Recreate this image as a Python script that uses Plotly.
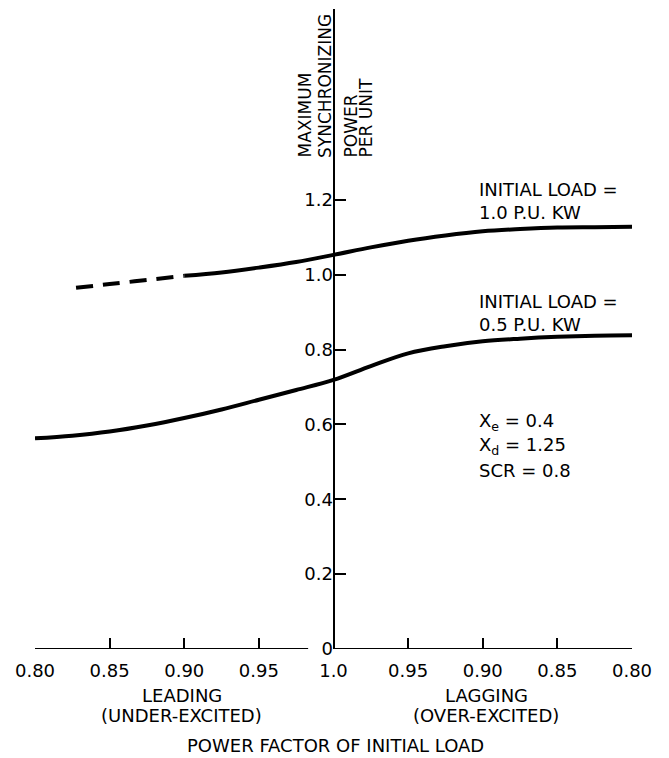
import plotly.graph_objects as go

# x coordinate: leading power factor -> pf - 1 (negative), lagging -> 1 - pf (positive)
x_tickvals = [-0.20, -0.15, -0.10, -0.05, 0.0, 0.05, 0.10, 0.15, 0.20]
x_ticktext = ["0.80", "0.85", "0.90", "0.95", "1.0", "0.95", "0.90", "0.85", "0.80"]
y_tickvals = [0, 0.2, 0.4, 0.6, 0.8, 1.0, 1.2]
y_ticktext = ["0", "0.2", "0.4", "0.6", "0.8", "1.0", "1.2"]

# Initial load = 1.0 P.U. KW
load10_dash_x = [-0.1725, -0.15, -0.125, -0.10]
load10_dash_y = [0.965, 0.975, 0.986, 0.997]
load10_x = [-0.10, -0.075, -0.05, -0.025, 0.0, 0.025, 0.05, 0.075, 0.10, 0.125, 0.15, 0.175, 0.20]
load10_y = [0.997, 1.006, 1.019, 1.034, 1.053, 1.073, 1.091, 1.105, 1.116, 1.122, 1.126, 1.127, 1.128]

# Initial load = 0.5 P.U. KW
load05_x = [-0.20, -0.175, -0.15, -0.125, -0.10, -0.075, -0.05, -0.025, 0.0, 0.025, 0.05, 0.075, 0.10, 0.125, 0.15, 0.175, 0.20]
load05_y = [0.563, 0.570, 0.581, 0.597, 0.617, 0.640, 0.666, 0.692, 0.719, 0.756, 0.790, 0.809, 0.822, 0.829, 0.834, 0.837, 0.838]

FONT = "DejaVu Sans"
FS = 18
fig = go.Figure()
fig.add_trace(go.Scatter(x=load10_dash_x, y=load10_dash_y, mode="lines",
                         line=dict(color="black", width=4, dash="17px,10px", shape="spline"),
                         cliponaxis=False, showlegend=False))
fig.add_trace(go.Scatter(x=load10_x, y=load10_y, mode="lines",
                         line=dict(color="black", width=4, shape="spline"),
                         cliponaxis=False, showlegend=False))
fig.add_trace(go.Scatter(x=load05_x, y=load05_y, mode="lines",
                         line=dict(color="black", width=4, shape="spline"),
                         cliponaxis=False, showlegend=False))

# split x-axis line
fig.add_shape(type="line", xref="x", yref="y", x0=-0.2, x1=-0.017, y0=0, y1=0,
              line=dict(color="black", width=2))
fig.add_shape(type="line", xref="x", yref="y", x0=0, x1=0.2, y0=0, y1=0,
              line=dict(color="black", width=2))

ann = []
def txt(x, y, s, size=FS, xanchor="left", yanchor="middle", angle=0):
    ann.append(dict(x=x, y=y, xref="x", yref="y", text=s, showarrow=False,
                    xanchor=xanchor, yanchor=yanchor, textangle=angle,
                    font=dict(family=FONT, size=size, color="black"), align="left"))

txt(0.096, 1.196, "INITIAL LOAD =<br>1.0 P.U. KW")
txt(0.096, 0.899, "INITIAL LOAD =<br>0.5 P.U. KW")
txt(0.096, 0.606, "X<sub>e</sub> = 0.4")
txt(0.096, 0.542, "X<sub>d</sub> = 1.25")
txt(0.096, 0.478, "SCR = 0.8")

# y-axis title (rotated), bottom aligned at same height
ytitle_y = (649 - 160) / 374.2
txt((305 - 333.5) / 1492.5, ytitle_y, "MAXIMUM", size=17, xanchor="center", yanchor="bottom", angle=-90)
txt((325 - 333.5) / 1492.5, ytitle_y, "SYNCHRONIZING", size=17, xanchor="center", yanchor="bottom", angle=-90)
txt((351 - 333.5) / 1492.5, ytitle_y, "POWER", size=17, xanchor="center", yanchor="bottom", angle=-90)
txt((366 - 333.5) / 1492.5, ytitle_y, "PER UNIT", size=17, xanchor="center", yanchor="bottom", angle=-90)

# bottom labels (page pixel positions -> paper coords; plot area spans x 35..632, y 9..649)
def bl(xpx, ypx, s):
    ann.append(dict(x=(xpx - 35) / 597, y=(649 - ypx) / 640, xref="paper", yref="paper",
                    text=s, showarrow=False, xanchor="center", yanchor="middle",
                    font=dict(family=FONT, size=FS, color="black")))
bl(182, 695, "LEADING")
bl(181, 715, "(UNDER-EXCITED)")
bl(486, 695, "LAGGING")
bl(486, 715, "(OVER-EXCITED)")
bl(335, 745, "POWER FACTOR OF INITIAL LOAD")

# the page body has an 8px margin, so the figure is sized/offset to compensate
fig.update_layout(
    width=661, height=750,
    margin=dict(l=27, r=37, t=1, b=109),
    plot_bgcolor="white", paper_bgcolor="white",
    annotations=ann,
    font=dict(family=FONT, size=FS, color="black"),
    xaxis=dict(range=[-0.2, 0.2], tickvals=x_tickvals, ticktext=x_ticktext,
               showgrid=False, zeroline=False, showline=False,
               ticks="inside", ticklen=11, tickwidth=2, tickcolor="black",
               tickfont=dict(family=FONT, size=FS, color="black"),
               ticklabelstandoff=9),
    yaxis=dict(range=[0, 1.71], tickvals=y_tickvals, ticktext=y_ticktext,
               anchor="free", position=0.5,
               showgrid=False, zeroline=False, showline=True, linecolor="black", linewidth=2,
               ticks="inside", ticklen=11, tickwidth=2, tickcolor="black",
               tickfont=dict(family=FONT, size=FS, color="black"),
               ticklabelstandoff=-4),
)

fig.write_html("out.html")
